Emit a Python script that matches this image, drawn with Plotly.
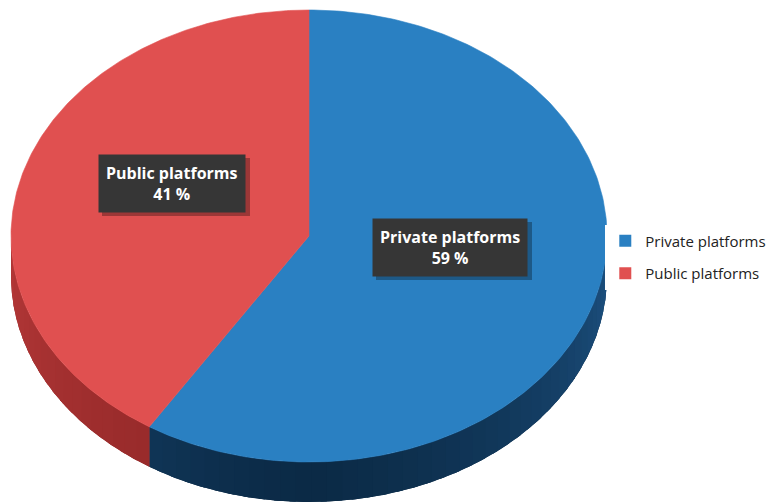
import numpy as np
import plotly.graph_objects as go

# Share of platforms
labels = ["Private platforms", "Public platforms"]
values = [59, 41]

top_colors = ["#2a80c2", "#e05050"]
side_dark = ["#0b2a46", "#8e2626"]
side_light = ["#1d5282", "#b53838"]

# Tilted-pie geometry (pixel space of the canvas)
W, H = 779, 504
cx, cy = 309, 236
rx, ry = 298, 226
depth = 40


def rim(theta_deg):
    t = np.radians(theta_deg)
    return cx + rx * np.sin(t), cy - ry * np.cos(t)


def blend(c1, c2, f):
    a = [int(c1[i:i + 2], 16) for i in (1, 3, 5)]
    b = [int(c2[i:i + 2], 16) for i in (1, 3, 5)]
    return "#" + "".join(f"{int(round(a[k] + (b[k] - a[k]) * f)):02x}" for k in range(3))


fig = go.Figure()

total = sum(values)
bounds = []
start = 0.0
for v in values:
    end = start + 360.0 * v / total
    bounds.append((start, end))
    start = end

# Side walls: only the front half (90..270 degrees) is visible.
# Each slice wall is a base polygon, then shaded bands on top of it.
for i, (a0, a1) in enumerate(bounds):
    lo, hi = max(a0, 90.0), min(a1, 270.0)
    if hi <= lo:
        continue
    th = np.linspace(lo, hi, 200)
    ux, uy = rim(th)
    xs = np.concatenate([ux, ux[::-1], [ux[0]]])
    ys = np.concatenate([uy, (uy + depth)[::-1], [uy[0]]])
    fig.add_trace(go.Scatter(
        x=xs, y=ys, fill="toself", fillcolor=side_dark[i],
        line=dict(width=0), mode="lines", hoverinfo="skip", showlegend=False))
    steps = np.linspace(lo, hi, int((hi - lo) / 3) + 2)
    for ta, tb in zip(steps[:-1], steps[1:]):
        mid = 0.5 * (ta + tb)
        # lighter toward the ends of the visible wall, darkest at the front
        f = min(1.0, abs(mid - 180.0) / 90.0) ** 1.3
        col = blend(side_dark[i], side_light[i], f)
        seg = np.linspace(ta, min(tb + 1.2, hi), 6)
        sx, sy = rim(seg)
        fig.add_trace(go.Scatter(
            x=np.concatenate([sx, sx[::-1], [sx[0]]]),
            y=np.concatenate([sy, (sy + depth)[::-1], [sy[0]]]),
            fill="toself", fillcolor=col, line=dict(width=0),
            mode="lines", hoverinfo="skip", showlegend=False))

# Top faces
for i, (a0, a1) in enumerate(bounds):
    th = np.linspace(a0, a1, 240)
    px, py = rim(th)
    xs = np.concatenate([[cx], px, [cx]])
    ys = np.concatenate([[cy], py, [cy]])
    fig.add_trace(go.Scatter(
        x=xs, y=ys, fill="toself", fillcolor=top_colors[i],
        line=dict(width=0.6, color=top_colors[i]), mode="lines",
        hoverinfo="skip", showlegend=False))

# Legend entries
for i, lab in enumerate(labels):
    fig.add_trace(go.Scatter(
        x=[None], y=[None], mode="markers", name=lab, legendgroup=lab,
        marker=dict(symbol="square", size=8, color=top_colors[i])))

# Data labels in dark boxes with a soft drop shadow
label_pos = [(450, 247), (172, 183)]
box_half = [(78, 29), (74, 29)]
for i, lab in enumerate(labels):
    pct = round(100 * values[i] / total)
    bx, by = label_pos[i]
    hw, hh = box_half[i]
    fig.add_shape(type="rect", x0=bx - hw + 4, x1=bx + hw + 4,
                  y0=by - hh + 4, y1=by + hh + 4, layer="above",
                  fillcolor="rgba(0,0,0,0.3)", line=dict(width=0))
    fig.add_annotation(
        x=bx, y=by, text=f"<b>{lab}<br>{pct} %</b>", showarrow=False,
        font=dict(family="Open Sans, DejaVu Sans", size=16, color="white"),
        bgcolor="#363636", borderpad=7, align="center")

fig.update_layout(
    width=W, height=H, margin=dict(l=0, r=0, t=0, b=0),
    paper_bgcolor="white", plot_bgcolor="white",
    xaxis=dict(range=[0, W], visible=False, fixedrange=True),
    yaxis=dict(range=[H, 0], visible=False, fixedrange=True),
    legend=dict(x=0.777, y=0.49, yanchor="middle", xanchor="left",
                font=dict(family="Open Sans, DejaVu Sans", size=15, color="#222"),
                itemsizing="constant", tracegroupgap=10),
    showlegend=True,
)

fig.write_html("out.html")
